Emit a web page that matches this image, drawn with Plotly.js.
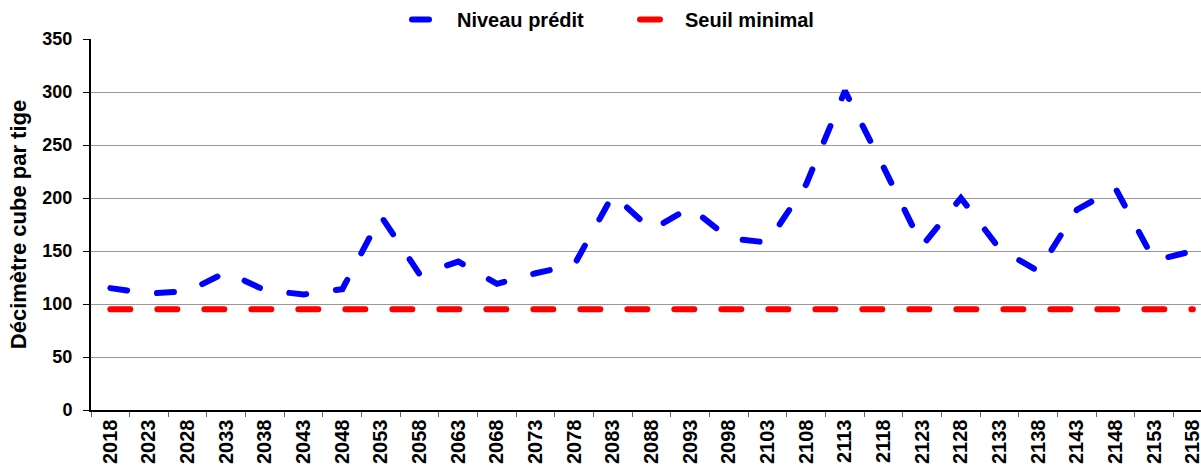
<!DOCTYPE html>
<html>
<head>
<meta charset="utf-8">
<script src="https://cdn.plot.ly/plotly-3.0.1.min.js"></script>
<style>
  html, body { margin: 0; padding: 0; background: #fff; }
  #chart { width: 1201px; height: 466px; }
  .scatterlayer .js-line, .legendlines path { stroke-linecap: round !important; }
</style>
</head>
<body>
<div id="chart"></div>
<script>
const years = ["2018","2023","2028","2033","2038","2043","2048","2053","2058","2063",
  "2068","2073","2078","2083","2088","2093","2098","2103","2108","2113",
  "2118","2123","2128","2133","2138","2143","2148","2153","2158"];
const niveauPredit = [115,110,112,130,113,109,114,183,128,140,
  119,129,137,203,170,191,162,158,213,301,
  229,155,200,152,131,189,209,141,150];
const seuilMinimal = [95,95,95,95,95,95,95,95,95,95,
  95,95,95,95,95,95,95,95,95,95,
  95,95,95,95,95,95,95,95,95];
const yTicks = [0,50,100,150,200,250,300,350];

const FONT = "Arial, 'Liberation Sans', sans-serif";

const traces = [
  {
    x: years, y: niveauPredit, type: "scatter", mode: "lines",
    name: "Niveau prédit",
    line: { color: "#0000FF", width: 6, dash: "17px,30px" }
  },
  {
    x: years, y: seuilMinimal, type: "scatter", mode: "lines",
    name: "Seuil minimal",
    line: { color: "#FF0000", width: 6, dash: "20px,27px" }
  }
];

const layout = {
  width: 1201, height: 466,
  margin: { l: 91, r: 0, t: 38, b: 56 },
  paper_bgcolor: "#ffffff", plot_bgcolor: "#ffffff",
  font: { family: FONT, color: "#000", size: 16, weight: "bold" },
  showlegend: true,
  legend: {
    orientation: "h", xref: "container", yref: "container",
    x: 407 / 1201, xanchor: "left", y: 1.0, yanchor: "top",
    font: { family: FONT, size: 20, color: "#000", weight: "bold" },
    bgcolor: "rgba(0,0,0,0)", itemwidth: 40, tracegroupgap: 0,
    entrywidth: 173, entrywidthmode: "pixels"
  },
  xaxis: {
    type: "category",
    range: [-0.5, 28.21],
    tickson: "boundaries",
    ticks: "outside", ticklen: 5, tickcolor: "#666", tickwidth: 1,
    tickangle: -90,
    tickfont: { family: FONT, size: 20, color: "#000", weight: "bold" },
    showline: true, linecolor: "#000", linewidth: 1.5,
    showgrid: false, zeroline: false, fixedrange: true
  },
  yaxis: {
    range: [0, 350],
    tickvals: yTicks,
    ticktext: yTicks.map(String),
    ticks: "outside", ticklen: 6, tickcolor: "#000", tickwidth: 1,
    ticklabelstandoff: 7,
    tickfont: { family: FONT, size: 18, color: "#000", weight: "bold" },
    showline: true, linecolor: "#000", linewidth: 2,
    showgrid: true, gridcolor: "#999999", gridwidth: 1,
    zeroline: false, fixedrange: true,
    title: { text: "Décimètre cube par tige", standoff: 10,
             font: { family: FONT, size: 22, color: "#000", weight: "bold" } },
    automargin: false
  }
};

Plotly.newPlot("chart", traces, layout, { displayModeBar: false, staticPlot: true });
</script>
</body>
</html>
